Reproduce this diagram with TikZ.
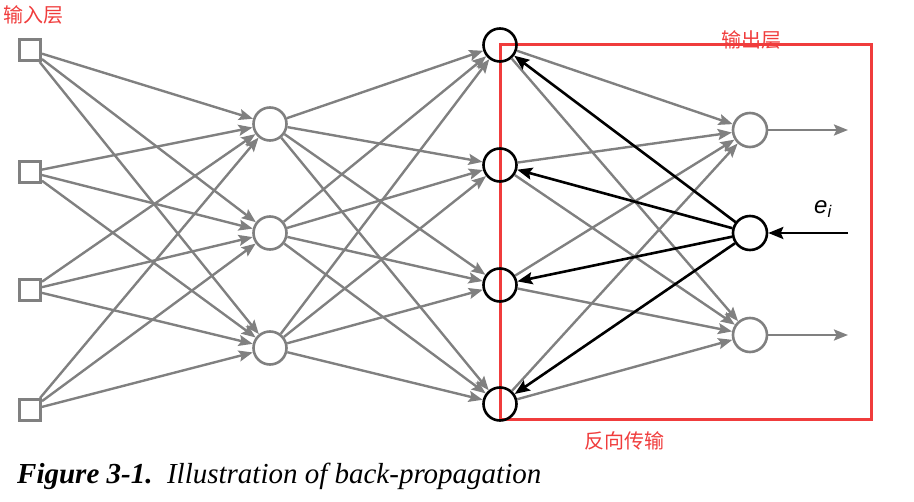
\documentclass[tikz,border=0pt]{standalone}
\usepackage{fontspec}
\setmainfont{Liberation Serif}
\newfontfamily\cjk{Noto Sans CJK SC}
\newfontfamily\helv{Liberation Sans}
\usepackage{tikz}
\usetikzlibrary{arrows.meta}
\definecolor{netgray}{RGB}{128,128,128}
\definecolor{labelred}{RGB}{240,60,60}

\begin{document}
\begin{tikzpicture}[x=1pt, y=-1pt,
    unit/.style={circle, draw, line width=2.6pt, minimum size=33pt, inner sep=0pt},
    inbox/.style={rectangle, draw=netgray, line width=3pt, minimum size=21pt, inner sep=0pt},
    fwd/.style={netgray, line width=2.4pt, -{Stealth[length=14pt,width=11pt,inset=2.5pt]}},
    back/.style={black, line width=2.6pt, -{Stealth[length=15pt,width=12pt,inset=2.5pt]}},
    redlabel/.style={labelred, font=\cjk\fontsize{20}{24}\selectfont}]
    \useasboundingbox (0,0) rectangle (914,502);

    % output block
    \draw[labelred, line width=3pt] (500,45) rectangle (871,420);

    % input layer
    \foreach \i/\y in {1/50, 2/172, 3/290, 4/410}
        \node[inbox] (in\i) at (30,\y) {};
    \node[redlabel] (inlabel) at (33,15) {输入层};

    % hidden layers
    \foreach \i/\y in {1/124, 2/233, 3/348}
        \node[unit, draw=netgray] (h\i) at (270,\y) {};
    \foreach \i/\y in {1/45, 2/165, 3/285, 4/404}
        \node[unit, draw=black] (g\i) at (500,\y) {};

    % output layer
    \node[unit, draw=netgray, minimum size=34pt] (o1) at (750,130) {};
    \node[unit, draw=black, minimum size=34pt] (o2) at (750,233) {};
    \node[unit, draw=netgray, minimum size=34pt] (o3) at (750,335) {};
    \node[redlabel] (outlabel) at (751,40) {输出层};

    % forward connections
    \foreach \i in {1,...,4}
        \foreach \j in {1,2,3}
            \draw[fwd] (in\i) -- (h\j);
    \foreach \j in {1,2,3}
        \foreach \k in {1,...,4}
            \draw[fwd] (h\j) -- (g\k);
    \foreach \k in {1,...,4} {
        \draw[fwd] (g\k) -- (o1);
        \draw[fwd] (g\k) -- (o3);
    }
    \coordinate (out1) at (848,130);
    \coordinate (out3) at (848,335);
    \draw[fwd] (o1) -- (out1);
    \draw[fwd] (o3) -- (out3);

    % error fed back
    \coordinate (err) at (848,233);
    \draw[back] (err) -- (o2);
    \node[font=\helv\itshape\fontsize{24}{28}\selectfont] (elabel) at (823,209) {e\textsubscript{i}};
    \foreach \k in {1,...,4}
        \draw[back] (o2) -- (g\k);
    \node[redlabel] (backlabel) at (624,441) {反向传输};

    % caption
    \node[anchor=base west, inner sep=0pt, font=\fontsize{29}{34}\selectfont] (caption) at (17,484)
        {\textbf{\textit{Figure 3-1.}}\ \ \textit{Illustration of back-propagation}};
\end{tikzpicture}
\end{document}
